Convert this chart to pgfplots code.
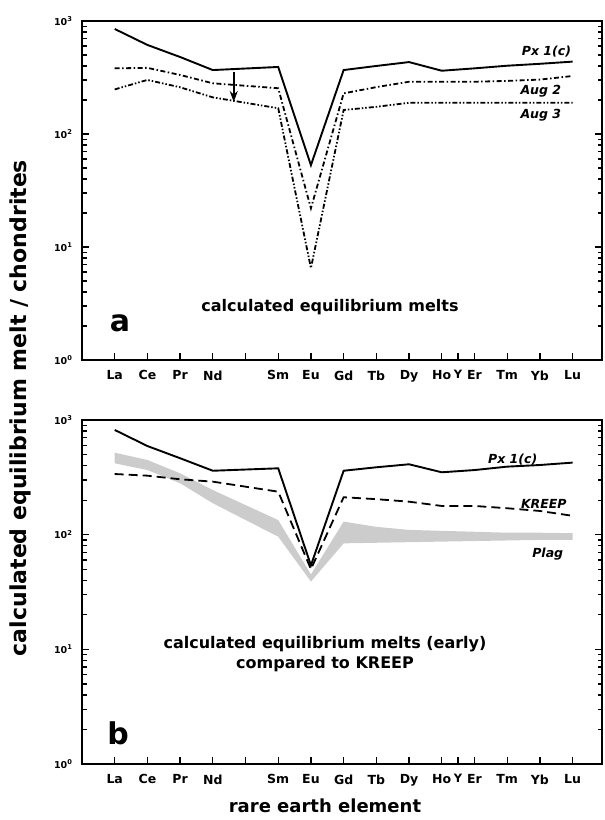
\documentclass[border=0pt]{standalone}
\usepackage{fontspec}
\setmainfont{DejaVu Sans}
\usepackage{pgfplots}
\pgfplotsset{compat=1.18}
\usetikzlibrary{arrows.meta}

\newcommand{\fs}[1]{\fontsize{#1}{#1}\selectfont\bfseries}

\tikzset{
  px/.style={black, line width=1.9pt},
  aug2/.style={black, line width=1.8pt, dash pattern=on 5pt off 2.5pt on 1.5pt off 2.5pt},
  aug3/.style={black, line width=1.8pt, dash pattern=on 5pt off 2pt on 1.5pt off 2pt on 1.5pt off 2pt},
  kreep/.style={black, line width=1.8pt, dash pattern=on 9pt off 5pt},
}

\begin{document}
\begin{tikzpicture}
\useasboundingbox (0,0) rectangle (605pt,820pt);

% ---- panel a ----
\begin{axis}[ymode=log, height=339pt, at={(82pt,460pt)}, anchor=south west,
    scale only axis, width=520pt,
    xmin=0, xmax=15.9, ymin=1, ymax=1000,
    axis line style={line width=2.6pt},
    tick align=inside, xtick pos=bottom, ytick pos=both,
    major tick length=7pt, minor tick length=4.5pt,
    tick style={black, line width=1.3pt},
    xtick={1,2,3,4,5,6,7,8,9,10,11,11.5,12,13,14,15},
    xticklabels={La,Ce,Pr,Nd,,Sm,Eu,Gd,Tb,Dy,Ho,\raisebox{3pt}{\fs{11.5}Y},Er,Tm,Yb,Lu},
    xticklabel style={font=\fs{12.5}, yshift=-7pt},
    ytick={1,10,100,1000},
    yticklabels={10\textsuperscript{0},10\textsuperscript{1},10\textsuperscript{2},10\textsuperscript{3}},
    minor ytick={2,3,4,5,6,7,8,9,20,30,40,50,60,70,80,90,200,300,400,500,600,700,800,900},
    yticklabel style={font=\fs{9.5}, xshift=-6pt},
    clip=false]
  \addplot[px] coordinates {(1,850)(2,614)(3,480)(4,368)(6,392)(7,53)(8,368)(9,400)(10,433)(11,363)(12,381)(13,402)(14,418)(15,437)};
  \addplot[aug2] coordinates {(1,381)(2,385)(3,333)(4,281)(6,254)(7,22)(8,229)(9,260)(10,290)(11,290)(12,290)(13,295)(14,303)(15,326)};
  \addplot[aug3] coordinates {(1,248)(2,301)(3,259)(4,211)(6,169)(7,6.5)(8,163)(9,174)(10,189)(11,189)(12,189)(13,189)(14,189)(15,189)};
  \draw[line width=1.8pt, -{Stealth[length=11pt, width=8pt]}] (axis cs:4.64,354) -- (axis cs:4.64,192);
  \node[font=\fs{12.5}\itshape] at (axis cs:14.2,532) {Px 1(c)};
  \node[font=\fs{12.5}\itshape] at (axis cs:14.03,240) {Aug 2};
  \node[font=\fs{12.5}\itshape] at (axis cs:14.03,147) {Aug 3};
\end{axis}

% ---- panel b ----
\begin{axis}[ymode=log, height=344pt, at={(82pt,56pt)}, anchor=south west,
    scale only axis, width=520pt,
    xmin=0, xmax=15.9, ymin=1, ymax=1000,
    axis line style={line width=2.6pt},
    tick align=inside, xtick pos=bottom, ytick pos=both,
    major tick length=7pt, minor tick length=4.5pt,
    tick style={black, line width=1.3pt},
    xtick={1,2,3,4,5,6,7,8,9,10,11,11.5,12,13,14,15},
    xticklabels={La,Ce,Pr,Nd,,Sm,Eu,Gd,Tb,Dy,Ho,\raisebox{3pt}{\fs{11.5}Y},Er,Tm,Yb,Lu},
    xticklabel style={font=\fs{12.5}, yshift=-7pt},
    ytick={1,10,100,1000},
    yticklabels={10\textsuperscript{0},10\textsuperscript{1},10\textsuperscript{2},10\textsuperscript{3}},
    minor ytick={2,3,4,5,6,7,8,9,20,30,40,50,60,70,80,90,200,300,400,500,600,700,800,900},
    yticklabel style={font=\fs{9.5}, xshift=-6pt},
    clip=false]
  % Plag band: upper edge La->Lu, then lower edge Lu->La
  \addplot[fill=gray!40, draw=none] coordinates {(1,519)(2,448)(3,343)(4,245)(6,134)(7,45)(8,130)(9,117)(10,110)(11,108)(12,106)(13,104)(14,104)(15,103)
    (15,90)(14,90)(13,89)(12,88)(11,87)(10,86)(9,85)(8,84)(7,39)(6,96)(4,188)(3,281)(2,366)(1,419)} -- cycle;
  \addplot[kreep] coordinates {(1,338)(2,327)(3,304)(4,290)(6,237)(7,50)(8,212)(9,204)(10,194)(11,178)(12,178)(13,170)(14,161)(15,146)};
  \addplot[px] coordinates {(1,819)(2,593)(3,464)(4,361)(6,379)(7,54)(8,361)(9,387)(10,411)(11,350)(12,366)(13,392)(14,405)(15,425)};
  \node[font=\fs{12.5}\itshape] at (axis cs:13.17,448) {Px 1(c)};
  \node[font=\fs{12.5}\itshape] at (axis cs:14.12,185) {KREEP};
  \node[font=\fs{12.5}\itshape] at (axis cs:14.24,68) {Plag};
\end{axis}

% ---- annotations ----
\node[font=\fs{30}] at (120pt,497pt) {a};
\node[font=\fs{16}] at (330pt,513pt) {calculated equilibrium melts};
\node[font=\fs{30}] at (118pt,87pt) {b};
\node[font=\fs{16}, align=center] at (325pt,166pt) {calculated equilibrium melts (early)\\[4pt]compared to KREEP};
\node[font=\fs{22}, rotate=90] at (20pt,412pt) {calculated equilibrium melt / chondrites};
\node[font=\fs{18}] at (325pt,14pt) {rare earth element};
\end{tikzpicture}
\end{document}
